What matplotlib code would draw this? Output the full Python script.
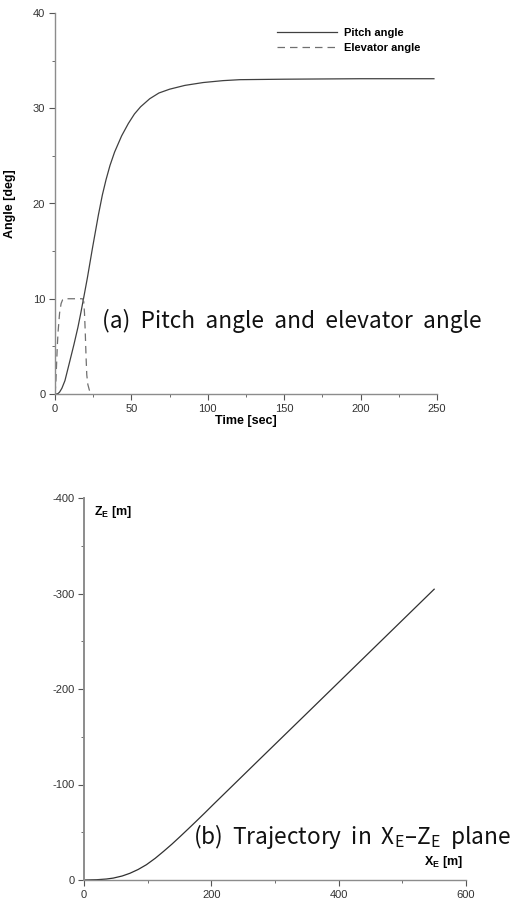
import matplotlib
matplotlib.use("Agg")
import matplotlib.pyplot as plt
from matplotlib.ticker import MultipleLocator

plt.rcParams['font.family'] = ['Liberation Sans', 'DejaVu Sans']
plt.rcParams['axes.unicode_minus'] = False
plt.rcParams['mathtext.fontset'] = 'custom'
plt.rcParams['mathtext.rm'] = 'Noto Sans CJK KR'
plt.rcParams['mathtext.bf'] = 'Liberation Sans:bold'

# ---- data: (a) pitch and elevator angle ----
pitch_t = [0, 1, 2, 3, 4.5, 6.5, 9, 12.4, 15, 17, 19, 21.2, 24.5, 28.4, 31, 33.4, 36, 39,
           43.6, 48, 52, 56, 62, 68, 75, 85, 97, 110, 121, 150, 200, 248]
pitch_deg = [0, 0, 0.05, 0.2, 0.6, 1.4, 3, 5.2, 7.0, 8.6, 10.3, 12.2, 15.3, 18.8, 20.9, 22.5, 24.0, 25.4,
             27.1, 28.4, 29.4, 30.15, 31.0, 31.6, 32.0, 32.4, 32.7, 32.9, 33.0, 33.05, 33.1, 33.1]

elev_t = [0, 0.5, 1, 1.5, 2, 3, 4, 5, 6, 18, 18.8, 19.3, 19.8, 20.3, 20.8, 21.5, 22.5, 23.5, 24.5]
elev_deg = [0, 1, 3, 5, 6.5, 8.5, 9.5, 9.9, 10, 10, 9.7, 8.5, 6.5, 4, 2, 1, 0.4, 0.1, 0]

# ---- data: (b) trajectory ----
traj_x = [0, 20, 35, 46, 60, 72, 85, 98, 112, 125, 138, 151, 164, 177, 190, 203, 276, 350, 450, 550]
traj_z = [0, -0.3, -1, -2, -4.2, -7, -11, -16, -22.8, -30, -37.5, -45.5, -53.7, -62, -70.4, -79,
          -126.5, -174.5, -239.5, -304.5]

fig = plt.figure(figsize=(5.14, 9.05), dpi=100)

spine_c = '#8c8c8c'
tick_c = '#333333'

def style(ax):
    for s in ['top', 'right']:
        ax.spines[s].set_visible(False)
    for s in ['left', 'bottom']:
        ax.spines[s].set_color(spine_c)
        ax.spines[s].set_linewidth(1.0)
    ax.tick_params(which='major', direction='out', length=4, width=0.8, color='#555555',
                   labelsize=8, labelcolor=tick_c, pad=3)
    ax.tick_params(which='minor', direction='out', length=2.5, width=0.6, color='#555555')

# (a)
ax1 = fig.add_axes([55/514, 1-394/905, (437-55)/514, (394-13)/905])
style(ax1)
ax1.plot(pitch_t, pitch_deg, color='#404040', lw=0.9, label='Pitch angle')
ax1.plot(elev_t, elev_deg, color='#707070', lw=0.9, linestyle=(0, (6, 4)), label='Elevator angle')
ax1.set_xlim(0, 250)
ax1.set_ylim(0, 40)
ax1.xaxis.set_major_locator(MultipleLocator(50))
ax1.xaxis.set_minor_locator(MultipleLocator(25))
ax1.yaxis.set_major_locator(MultipleLocator(10))
ax1.yaxis.set_minor_locator(MultipleLocator(5))
ax1.set_xlabel('Time [sec]', fontsize=9, fontweight='bold', labelpad=1)
ax1.set_ylabel('Angle [deg]', fontsize=9, fontweight='bold', labelpad=12)
leg = ax1.legend(loc='upper left', bbox_to_anchor=(0.581, 0.96), frameon=False,
                 borderpad=0, borderaxespad=0, handlelength=5.4, handletextpad=0.6,
                 labelspacing=0.4, prop={'weight': 'bold', 'size': 8})
ax1.text(0.122, 0.192, '(a)  Pitch  angle  and  elevator  angle', transform=ax1.transAxes,
         fontsize=16.3, family=['Noto Sans CJK KR', 'DejaVu Sans'], color='#111111',
         va='center', ha='left')

# (b)
ax2 = fig.add_axes([84/514, 1-880/905, (466-84)/514, (880-498)/905])
style(ax2)
ax2.spines['left'].set_linewidth(1.4)
ax2.plot(traj_x, traj_z, color='#303030', lw=0.9)
ax2.set_xlim(0, 600)
ax2.set_ylim(0, -400)
ax2.xaxis.set_major_locator(MultipleLocator(200))
ax2.xaxis.set_minor_locator(MultipleLocator(100))
ax2.yaxis.set_major_locator(MultipleLocator(100))
ax2.yaxis.set_minor_locator(MultipleLocator(50))
ax2.text(0.027, 0.985, r'$\mathbf{Z}_{\mathbf{E}}$ [m]', transform=ax2.transAxes,
         fontsize=9, fontweight='bold', va='top', ha='left')
ax2.text(0.89, 0.025, r'$\mathbf{X}_{\mathbf{E}}$ [m]', transform=ax2.transAxes,
         fontsize=9, fontweight='bold', va='bottom', ha='left')
ax2.text(0.285, 0.113, r'(b)  Trajectory  in  $\mathrm{X_E}$–$\mathrm{Z_E}$  plane', transform=ax2.transAxes,
         fontsize=16.3, family=['Noto Sans CJK KR', 'DejaVu Sans'], color='#111111',
         va='center', ha='left', clip_on=False)

fig.savefig('out.png', dpi=100)
